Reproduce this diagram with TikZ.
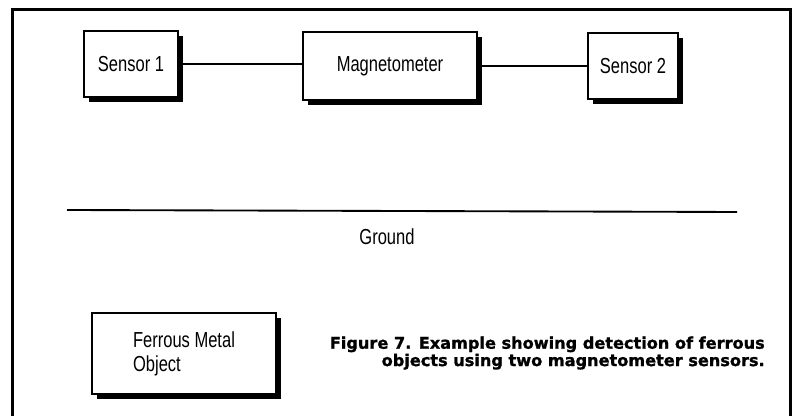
\documentclass[tikz,border=0pt]{standalone}
\usepackage{fontspec}
\setmainfont{Liberation Sans}
\newfontfamily\narrowfont[FakeStretch=0.76]{Liberation Sans}
\newfontfamily\capfont[BoldFeatures={FakeBold=1.2}]{DejaVu Sans}
\usetikzlibrary{shadows}
\begin{document}
\begin{tikzpicture}[x=0.75pt,y=-0.75pt,
  box/.style={draw=black,line width=1.1pt,fill=white,inner sep=0pt,
    drop shadow={shadow xshift=3.75pt,shadow yshift=-3.75pt,fill=black,opacity=1},
    font=\narrowfont\fontsize{16.3pt}{18pt}\selectfont},
  wire/.style={line width=0.9pt},
  lbl/.style={font=\narrowfont\fontsize{16.3pt}{18pt}\selectfont,inner sep=0pt},
  captext/.style={font=\capfont\bfseries\fontsize{12.1pt}{13pt}\selectfont,align=right,inner sep=0pt}]
\useasboundingbox (0,0) rectangle (797,416);
\fill[white] (0,0) rectangle (797,416);
% frame
\draw[line width=2.25pt] (12,418) -- (12,10) -- (790,10) -- (790,418);
% boxes
\node[box,minimum width=70.5pt,minimum height=49.5pt] (s1) at (131,64) {Sensor 1};
\node[box,minimum width=130.5pt,minimum height=51pt] (mag) at (390,66) {Magnetometer};
\node[box,minimum width=67.5pt,minimum height=49.5pt] (s2) at (633,66) {Sensor 2};
\node[box,minimum width=138pt,minimum height=60.75pt,align=left,font=\narrowfont\fontsize{16.3pt}{18pt}\selectfont] (obj) at (184,353.5) {Ferrous Metal\\Object};
% connectors
\draw[wire] (s1.east) -- (s1.east -| mag.west);
\draw[wire] (mag.east) -- (mag.east -| s2.west);
% ground
\coordinate (g1) at (67,210);
\coordinate (g2) at (737,212);
\draw[line width=1.4pt] (g1) -- (g2);
\node[lbl] (ground) at (387,237) {Ground};
% caption
\node[captext,anchor=east] (caption) at (765,353) {Figure 7. Example showing detection of ferrous\\objects using two magnetometer sensors.};
\end{tikzpicture}
\end{document}
